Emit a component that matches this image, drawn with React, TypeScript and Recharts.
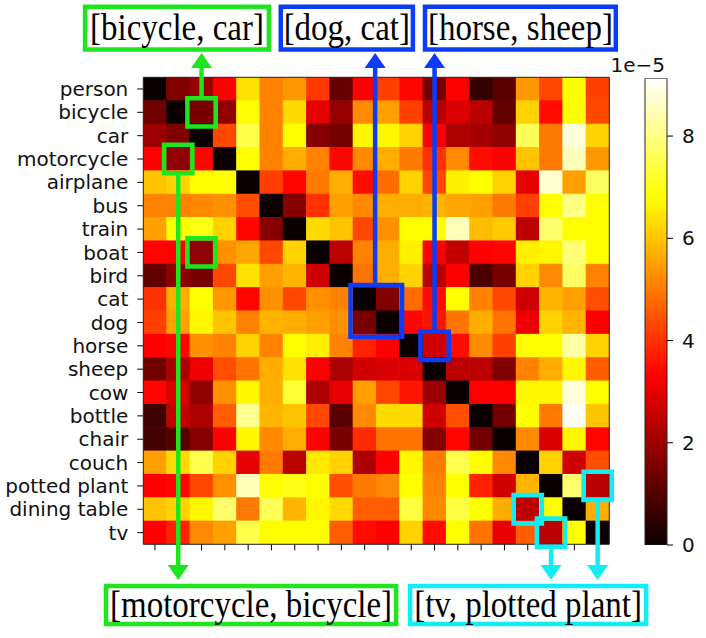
import React from 'react';
import {
  ScatterChart, Scatter, XAxis, YAxis, ReferenceArea, ReferenceLine, ReferenceDot,
  BarChart, Bar,
} from 'recharts';

// ---------------- data ----------------
const categories = [
  'person', 'bicycle', 'car', 'motorcycle', 'airplane', 'bus', 'train', 'boat', 'bird', 'cat',
  'dog', 'horse', 'sheep', 'cow', 'bottle', 'chair', 'couch', 'potted plant', 'dining table', 'tv',
];

// values in units of 1e-5, one array per row (row = category, column = category)
const rowPerson = [0, 1.6, 2.0, 3.3, 6.4, 5.1, 5.4, 4.1, 1.2, 3.3, 4.2, 3.4, 1.5, 3.3, 0.6, 1.1, 5.4, 4.3, 6.8, 4.2];
const rowBicycle = [1.4, 0, 1.5, 1.8, 6.8, 5.1, 6.3, 3.0, 1.9, 5.2, 5.5, 4.2, 2.4, 2.8, 2.4, 1.2, 6.2, 3.5, 6.8, 4.3];
const rowCar = [2.0, 1.6, 0, 4.3, 7.5, 5.1, 6.8, 1.7, 1.5, 6.7, 6.7, 6.2, 3.3, 2.2, 2.1, 1.8, 7.6, 5.0, 8.8, 6.2];
const rowMotorcycle = [3.3, 1.8, 3.4, 0, 6.8, 5.1, 5.7, 5.1, 3.4, 5.2, 5.7, 5.0, 4.0, 5.2, 3.5, 3.3, 6.0, 5.0, 8.5, 5.4];
const rowAirplane = [6.0, 6.2, 6.8, 6.8, 0, 4.2, 3.4, 5.0, 5.7, 3.5, 4.8, 6.2, 4.3, 6.6, 6.8, 6.2, 3.0, 8.7, 5.5, 7.7];
const rowBus = [5.1, 5.1, 5.2, 5.3, 4.4, 0, 1.7, 4.0, 5.5, 5.2, 5.7, 5.7, 5.8, 5.6, 5.5, 5.0, 4.2, 6.8, 8.0, 6.8];
const rowTrain = [5.5, 6.8, 7.0, 6.2, 3.4, 1.7, 0, 6.3, 6.0, 4.3, 5.3, 6.8, 6.8, 8.5, 5.9, 6.1, 2.4, 7.8, 6.8, 6.8];
const rowBoat = [3.4, 3.3, 1.8, 5.3, 5.6, 4.3, 6.2, 0, 2.4, 5.1, 5.7, 6.6, 3.3, 2.5, 3.3, 3.4, 6.6, 6.7, 7.9, 6.8];
const rowBird = [1.2, 1.8, 1.5, 4.3, 6.4, 5.5, 5.8, 2.7, 0, 4.9, 5.7, 6.2, 2.4, 3.3, 0.9, 1.5, 6.2, 5.2, 7.7, 5.1];
const rowCat = [4.0, 5.7, 6.8, 5.4, 3.4, 5.3, 4.3, 5.3, 5.1, 0, 1.6, 4.8, 3.5, 6.8, 5.1, 4.3, 2.7, 5.8, 5.5, 4.4];
const rowDog = [4.2, 5.5, 6.7, 6.0, 5.1, 5.8, 5.7, 5.5, 5.3, 1.5, 0, 3.4, 3.6, 4.9, 5.7, 4.9, 3.1, 6.2, 5.8, 3.3];
const rowHorse = [3.3, 3.4, 5.3, 5.1, 6.2, 5.1, 6.8, 6.6, 5.1, 3.8, 3.3, 0, 2.7, 3.5, 5.2, 4.2, 6.8, 6.8, 8.3, 6.2];
const rowSheep = [1.4, 2.2, 3.1, 4.4, 4.9, 5.7, 6.4, 3.3, 2.2, 2.7, 2.8, 2.8, 0, 2.4, 2.4, 1.6, 5.1, 5.7, 6.7, 4.6];
const rowCow = [3.4, 2.8, 1.8, 5.3, 6.7, 5.7, 7.3, 2.2, 3.0, 5.5, 4.3, 3.6, 2.0, 0, 3.3, 3.3, 6.7, 6.7, 8.8, 6.8];
const rowBottle = [0.7, 2.5, 2.2, 4.6, 8.1, 5.8, 6.0, 4.3, 1.1, 5.2, 6.3, 6.3, 2.7, 4.4, 0, 1.4, 6.8, 5.0, 9.0, 6.0];
const rowChair = [0.8, 1.0, 1.7, 3.3, 6.7, 5.2, 5.7, 3.3, 1.5, 3.9, 4.9, 4.9, 1.7, 3.4, 1.4, 0, 5.2, 2.8, 6.7, 3.4];
const rowCouch = [5.5, 6.3, 7.5, 6.2, 3.0, 5.0, 2.4, 6.5, 6.2, 2.2, 3.3, 6.7, 5.0, 7.5, 6.8, 5.2, 0, 6.2, 2.7, 4.4];
const rowPottedPlant = [3.3, 3.4, 4.3, 5.3, 8.5, 6.8, 7.0, 6.8, 4.4, 5.0, 5.2, 6.8, 5.1, 6.8, 3.8, 2.7, 5.8, 0, 7.8, 2.4];
const rowDiningTable = [6.0, 6.2, 6.7, 7.8, 5.0, 7.6, 5.8, 6.7, 6.3, 4.6, 4.6, 7.4, 5.2, 7.4, 6.8, 5.7, 2.4, 6.8, 0, 5.7];
const rowTv = [3.3, 3.8, 5.2, 5.5, 7.5, 6.8, 6.8, 6.8, 4.6, 3.5, 3.3, 6.2, 3.5, 6.8, 4.9, 3.0, 4.6, 2.4, 6.8, 0];

const rows = [
  rowPerson, rowBicycle, rowCar, rowMotorcycle, rowAirplane, rowBus, rowTrain, rowBoat, rowBird, rowCat,
  rowDog, rowHorse, rowSheep, rowCow, rowBottle, rowChair, rowCouch, rowPottedPlant, rowDiningTable, rowTv,
];

const colorbarTicks = [0, 2, 4, 6, 8];
const VMAX = 9.13;
const SCALE_LABEL = '1e\u22125';

// ---------------- annotations (category-index units) ----------------
const GREEN = '#1ee61e';
const BLUE = '#0c3cf5';
const CYAN = '#10eef5';

const highlights = [
  { r1: 1, r2: 1, c1: 2, c2: 2, color: GREEN },
  { r1: 3, r2: 3, c1: 1, c2: 1, color: GREEN },
  { r1: 7, r2: 7, c1: 2, c2: 2, color: GREEN },
  { r1: 9, r2: 10, c1: 9, c2: 10, color: BLUE },
  { r1: 11, r2: 11, c1: 12, c2: 12, color: BLUE },
  { r1: 18, r2: 18, c1: 16, c2: 16, color: CYAN },
  { r1: 19, r2: 19, c1: 17, c2: 17, color: CYAN },
  { r1: 17, r2: 17, c1: 19, c2: 19, color: CYAN },
];

const labelBoxes = [
  { text: '[bicycle, car]', color: GREEN, x1: -3.0, x2: 4.89, y1: -3.52, y2: -1.69 },
  { text: '[dog, cat]', color: BLUE, x1: 5.4, x2: 11.07, y1: -3.52, y2: -1.69 },
  { text: '[horse, sheep]', color: BLUE, x1: 11.59, x2: 19.78, y1: -3.52, y2: -1.69 },
  { text: '[motorcycle, bicycle]', color: GREEN, x1: -2.1, x2: 10.35, y1: 21.29, y2: 22.91 },
  { text: '[tv, plotted plant]', color: CYAN, x1: 10.95, x2: 21.08, y1: 21.29, y2: 22.91 },
];

const arrows = [
  { x: 2, from: 0.4, tip: -1.54, color: GREEN, up: true },
  { x: 9.45, from: 8.4, tip: -1.54, color: BLUE, up: true },
  { x: 12, from: 10.4, tip: -1.54, color: BLUE, up: true },
  { x: 1, from: 3.6, tip: 21.03, color: GREEN, up: false },
  { x: 17, from: 19.6, tip: 21.03, color: CYAN, up: false },
  { x: 19, from: 17.6, tip: 21.03, color: CYAN, up: false },
];

// ---------------- layout ----------------
const W = 706;
const H = 638;
const PLOT_LEFT = 143.3;
const PLOT_TOP = 77.3;
const PLOT_W = 466;
const PLOT_H = 467;
const X_AXIS_H = 10;
const N = categories.length;
const CELL_W = PLOT_W / N;
const CELL_H = PLOT_H / N;
const PAD = 0.107;

const CB_LEFT = 645;
const CB_RIGHT = 667;
const CB_TOP = 78.3;
const CB_BOTTOM = 545;

const idx = categories.map((_, i) => i);
const cells = rows.flatMap((r, i) => r.map((v, j) => ({ x: j, y: i, v })));
const DOMAIN: [number, number] = [-0.5, N - 0.5];

function hot(v: number): string {
  const t = Math.max(0, Math.min(1, v / VMAX));
  const a = 0.365079;
  const b = 0.746032;
  const r = t < a ? 0.0416 + (1 - 0.0416) * (t / a) : 1;
  const g = t < a ? 0 : t < b ? (t - a) / (b - a) : 1;
  const bl = t < b ? 0 : (t - b) / (1 - b);
  return `rgb(${Math.round(r * 255)},${Math.round(g * 255)},${Math.round(bl * 255)})`;
}

const CellShape = (props: any) => {
  const { cx, cy, payload } = props;
  return (
    <rect
      x={cx - CELL_W / 2 - 0.3}
      y={cy - CELL_H / 2 - 0.3}
      width={CELL_W + 0.6}
      height={CELL_H + 0.6}
      fill={hot(payload.v)}
    />
  );
};

const boxLabel = (text: string) => (props: any) => {
  const vb = props.viewBox;
  const cx = vb.x + vb.width / 2;
  const cy = vb.y + vb.height / 2;
  return (
    <text
      x={cx}
      y={cy}
      textAnchor="middle"
      dominantBaseline="central"
      fontFamily="'Liberation Serif', 'Times New Roman', serif"
      fontSize={33}
      fill="#000"
      transform={`translate(${cx} ${cy}) scale(1 1.12) translate(${-cx} ${-cy})`}
    >
      {text}
    </text>
  );
};

const arrowHead = (up: boolean, color: string) => (props: any) => {
  const { cx, cy } = props;
  const h = up ? 15 : -15;
  return <polygon points={`${cx},${cy} ${cx - 10.5},${cy + h} ${cx + 10.5},${cy + h}`} fill={color} />;
};

const stops = [0, 0.365079, 0.746032, 1];

export default function App() {
  const heatmapMargin = {
    top: PLOT_TOP,
    right: W - PLOT_LEFT - PLOT_W,
    bottom: H - PLOT_TOP - PLOT_H - X_AXIS_H,
    left: 0,
  };
  const overlayMargin = {
    top: PLOT_TOP,
    right: W - PLOT_LEFT - PLOT_W,
    bottom: H - PLOT_TOP - PLOT_H,
    left: PLOT_LEFT,
  };
  const cbAxisW = 39;
  const cbMargin = {
    top: CB_TOP,
    bottom: H - CB_BOTTOM,
    left: CB_LEFT,
    right: W - CB_RIGHT - cbAxisW,
  };
  const layer: React.CSSProperties = { position: 'absolute', left: 0, top: 0 };
  return (
    <div style={{ position: 'fixed', left: 0, top: 0, width: W, height: H, background: '#fff', overflow: 'hidden' }}>
      <svg width={0} height={0} style={{ position: 'absolute' }}>
        <defs>
          <linearGradient id="hotGrad" x1="0" y1="1" x2="0" y2="0">
            {stops.map((s) => (
              <stop key={s} offset={s} stopColor={hot(s * VMAX)} />
            ))}
          </linearGradient>
        </defs>
      </svg>

      {/* colorbar */}
      <div style={layer}>
        <BarChart width={W} height={H} margin={cbMargin} data={[{ name: 'cb', v: VMAX }]} barCategoryGap={0}>
          <XAxis dataKey="name" type="category" hide />
          <YAxis
            orientation="right"
            type="number"
            domain={[0, VMAX]}
            allowDataOverflow
            ticks={colorbarTicks}
            interval={0}
            tickSize={6}
            tickMargin={9}
            width={cbAxisW}
            axisLine={false}
            stroke="#000"
            tick={{ fontSize: 20, fontFamily: 'DejaVu Sans', fill: '#111' }}
          />
          <Bar dataKey="v" fill="url(#hotGrad)" stroke="#222" strokeWidth={1} isAnimationActive={false} />
          <ReferenceDot
            x="cb"
            y={VMAX}
            r={0}
            ifOverflow="visible"
            fill="none"
            stroke="none"
            label={(p: any) => (
              <text
                x={p.viewBox.x + 9}
                y={p.viewBox.y - 6}
                textAnchor="end"
                fontSize={20}
                fontFamily="DejaVu Sans"
                fill="#111"
              >
                {SCALE_LABEL}
              </text>
            )}
          />
        </BarChart>
      </div>

      {/* heatmap */}
      <div style={layer}>
        <ScatterChart width={W} height={H} margin={heatmapMargin}>
          <XAxis
            type="number"
            dataKey="x"
            domain={DOMAIN}
            allowDataOverflow
            ticks={idx}
            interval={0}
            tickFormatter={() => ''}
            tickSize={6}
            axisLine={false}
            height={X_AXIS_H}
            stroke="#000"
          />
          <YAxis
            type="number"
            dataKey="y"
            domain={DOMAIN}
            allowDataOverflow
            reversed
            ticks={idx}
            interval={0}
            tickFormatter={(i: number) => categories[i]}
            tickSize={6}
            tickMargin={9}
            width={PLOT_LEFT}
            axisLine={false}
            stroke="#000"
            tick={{ fontSize: 20, fontFamily: 'DejaVu Sans', fill: '#111' }}
          />
          <Scatter data={cells} shape={CellShape} isAnimationActive={false} />
        </ScatterChart>
      </div>

      {/* annotation overlay, same data coordinates */}
      <div style={layer}>
        <ScatterChart width={W} height={H} margin={overlayMargin}>
          <XAxis type="number" dataKey="x" domain={DOMAIN} allowDataOverflow hide />
          <YAxis type="number" dataKey="y" domain={DOMAIN} allowDataOverflow reversed hide />
          <Scatter data={[]} isAnimationActive={false} />
          <ReferenceArea
            x1={-0.5}
            x2={N - 0.5}
            y1={-0.5}
            y2={N - 0.5}
            ifOverflow="visible"
            fill="none"
            stroke="#222"
            strokeWidth={1}
          />
          {highlights.map((h, i) => (
            <ReferenceArea
              key={`h${i}`}
              x1={h.c1 - 0.5 - PAD}
              x2={h.c2 + 0.5 + PAD}
              y1={h.r1 - 0.5 - PAD}
              y2={h.r2 + 0.5 + PAD}
              ifOverflow="visible"
              fill="none"
              fillOpacity={0}
              stroke={h.color}
              strokeWidth={4.5}
            />
          ))}
          {arrows.map((a, i) => (
            <ReferenceLine
              key={`s${i}`}
              segment={[
                { x: a.x, y: a.from },
                { x: a.x, y: a.up ? a.tip + 0.5 : a.tip - 0.5 },
              ]}
              ifOverflow="visible"
              stroke={a.color}
              strokeWidth={4.5}
            />
          ))}
          {arrows.map((a, i) => (
            <ReferenceDot
              key={`d${i}`}
              x={a.x}
              y={a.tip}
              r={1}
              ifOverflow="visible"
              shape={arrowHead(a.up, a.color)}
            />
          ))}
          {labelBoxes.map((b, i) => (
            <ReferenceArea
              key={`b${i}`}
              x1={b.x1}
              x2={b.x2}
              y1={b.y1}
              y2={b.y2}
              ifOverflow="visible"
              fill="#fff"
              fillOpacity={1}
              stroke={b.color}
              strokeWidth={4.5}
              label={boxLabel(b.text)}
            />
          ))}
        </ScatterChart>
      </div>
    </div>
  );
}
